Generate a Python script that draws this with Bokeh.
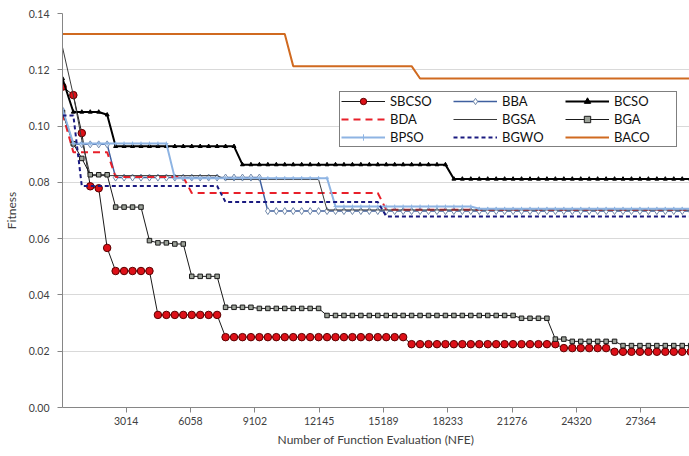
from bokeh.plotting import figure
from bokeh.models import Range1d, FixedTicker, PrintfTickFormatter, Legend, LegendItem
from bokeh.embed import file_html
from bokeh.resources import INLINE

# ---------------- data ----------------
N_POINTS = 75
# evaluation points (NFE) of the sampled convergence curves
nfe = [0] + [113 + 400.2 * i for i in range(1, N_POINTS)]

x_tick_values = [3014, 6058, 9102, 12145, 15189, 18233, 21276, 24320, 27364]
y_tick_values = [0.00, 0.02, 0.04, 0.06, 0.08, 0.10, 0.12, 0.14]

# fitness values, run-length encoded as (value, number of consecutive points)
sbcso = [(0.114, 1), (0.111, 1), (0.0975, 1), (0.0786, 1), (0.0779, 1), (0.0567, 1),
         (0.0485, 5), (0.0329, 8), (0.0250, 22), (0.0225, 18), (0.0211, 6), (0.0198, 10)]
bba = [(0.1056, 1), (0.0935, 5), (0.0817, 18), (0.0698, 51)]
bcso = [(0.1169, 1), (0.1050, 4), (0.1040, 1), (0.0928, 15), (0.0863, 25), (0.0812, 29)]
bda = [(0.1045, 1), (0.0907, 5), (0.0819, 9), (0.0762, 23), (0.0703, 37)]
bgsa = [(0.128, 1), (0.111, 1), (0.095, 1), (0.0824, 16), (0.0810, 12), (0.0702, 44)]
bga = [(0.1047, 1), (0.0937, 1), (0.0885, 1), (0.0827, 3), (0.0712, 4), (0.0593, 1),
       (0.0585, 2), (0.0581, 2), (0.0466, 4), (0.0356, 4), (0.0352, 8), (0.0327, 23),
       (0.0317, 4), (0.0243, 2), (0.0235, 6), (0.0220, 9)]
bpso = [(0.106, 1), (0.0938, 12), (0.0815, 19), (0.0714, 17), (0.0706, 26)]
bgwo = [(0.1038, 2), (0.0787, 17), (0.0730, 19), (0.0679, 37)]
baco = [(0.1327, 27), (0.1213, 15), (0.1169, 33)]

series_names = ["SBCSO", "BBA", "BCSO", "BDA", "BGSA", "BGA", "BPSO", "BGWO", "BACO"]
series_runs = [sbcso, bba, bcso, bda, bgsa, bga, bpso, bgwo, baco]


def expand(runs):
    out = []
    for v, c in runs:
        out += [v] * c
    return out


styles = {
    "SBCSO": dict(color="#1a1a1a", width=1, dash="solid", marker="circle", size=7.5,
                  mfill="#DD1018", mline="#5a0000"),
    "BBA": dict(color="#3F5F9F", width=1.5, dash="solid", marker="diamond", size=7,
                mfill="white", mline="#7088aa"),
    "BCSO": dict(color="black", width=2, dash="solid", marker="triangle", size=4,
                 mfill="black", mline="black"),
    "BDA": dict(color="#E8202A", width=2, dash="7 5", marker=None),
    "BGSA": dict(color="#3a3a3a", width=1, dash="solid", marker=None),
    "BGA": dict(color="#1a1a1a", width=1, dash="solid", marker="square", size=4.5,
                mfill="#9DA39A", mline="#1a1a1a"),
    "BPSO": dict(color="#8EB4E3", width=2, dash="solid", marker="cross", size=4,
                 mfill="#8EB4E3", mline="#8EB4E3"),
    "BGWO": dict(color="#1a1a80", width=2, dash="4 3", marker=None),
    "BACO": dict(color="#D06A20", width=2, dash="solid", marker=None),
}

FONT = "Lato"
TEXT = "#404040"

p = figure(width=689, height=456, output_backend="svg", toolbar_location=None,
           x_range=Range1d(0, 29672), y_range=Range1d(0, 0.14),
           min_border_left=59, min_border_right=0, min_border_top=13,
           min_border_bottom=49)
p.title.visible = False
p.outline_line_color = None
p.background_fill_color = "white"
p.border_fill_color = "white"

items = []
for name, runs in zip(series_names, series_runs):
    st = styles[name]
    ys = expand(runs)
    rends = []
    ln = p.line(nfe, ys, line_color=st["color"], line_width=st["width"],
                line_dash=st["dash"])
    rends.append(ln)
    if st["marker"]:
        sc = p.scatter(nfe, ys, marker=st["marker"], size=st["size"],
                       fill_color=st["mfill"], line_color=st["mline"], line_width=1)
        rends.append(sc)
    items.append(LegendItem(label=name, renderers=rends))

legend = Legend(items=items, orientation="horizontal", ncols=3,
                location=(277, 260), padding=1, spacing=2, margin=0,
                glyph_width=44, glyph_height=16, label_height=16, label_width=61,
                label_standoff=5, label_text_font=FONT, label_text_font_size="13px",
                label_text_color="#111111", border_line_color="black",
                border_line_width=1, background_fill_color="white",
                background_fill_alpha=1.0)
p.add_layout(legend, "center")

# axes
p.xaxis.ticker = FixedTicker(ticks=x_tick_values, minor_ticks=[])
p.yaxis.ticker = FixedTicker(ticks=y_tick_values, minor_ticks=[])
p.yaxis.formatter = PrintfTickFormatter(format="%.2f")
p.xaxis.axis_label = "Number of Function Evaluation (NFE)"
p.yaxis.axis_label = "Fitness"
for ax in (p.xaxis, p.yaxis):
    ax.axis_line_color = "#868686"
    ax.major_tick_line_color = "#868686"
    ax.major_tick_out = 5
    ax.major_tick_in = 0
    ax.minor_tick_out = 0
    ax.minor_tick_in = 0
    ax.major_label_text_font = FONT
    ax.major_label_text_font_size = "10.5px"
    ax.major_label_text_color = TEXT
    ax.axis_label_text_font = FONT
    ax.axis_label_text_font_size = "12px"
    ax.axis_label_text_font_style = "normal"
    ax.axis_label_text_color = TEXT
p.xaxis.major_label_standoff = 4
p.xaxis.axis_label_standoff = 4
p.yaxis.major_label_standoff = 8
p.yaxis.axis_label_standoff = 7

p.xgrid.visible = False
p.ygrid.ticker = FixedTicker(ticks=y_tick_values)
p.ygrid.grid_line_color = "#D9D9D9"
p.ygrid.grid_line_width = 1

open("out.html", "w").write(file_html(p, INLINE))
